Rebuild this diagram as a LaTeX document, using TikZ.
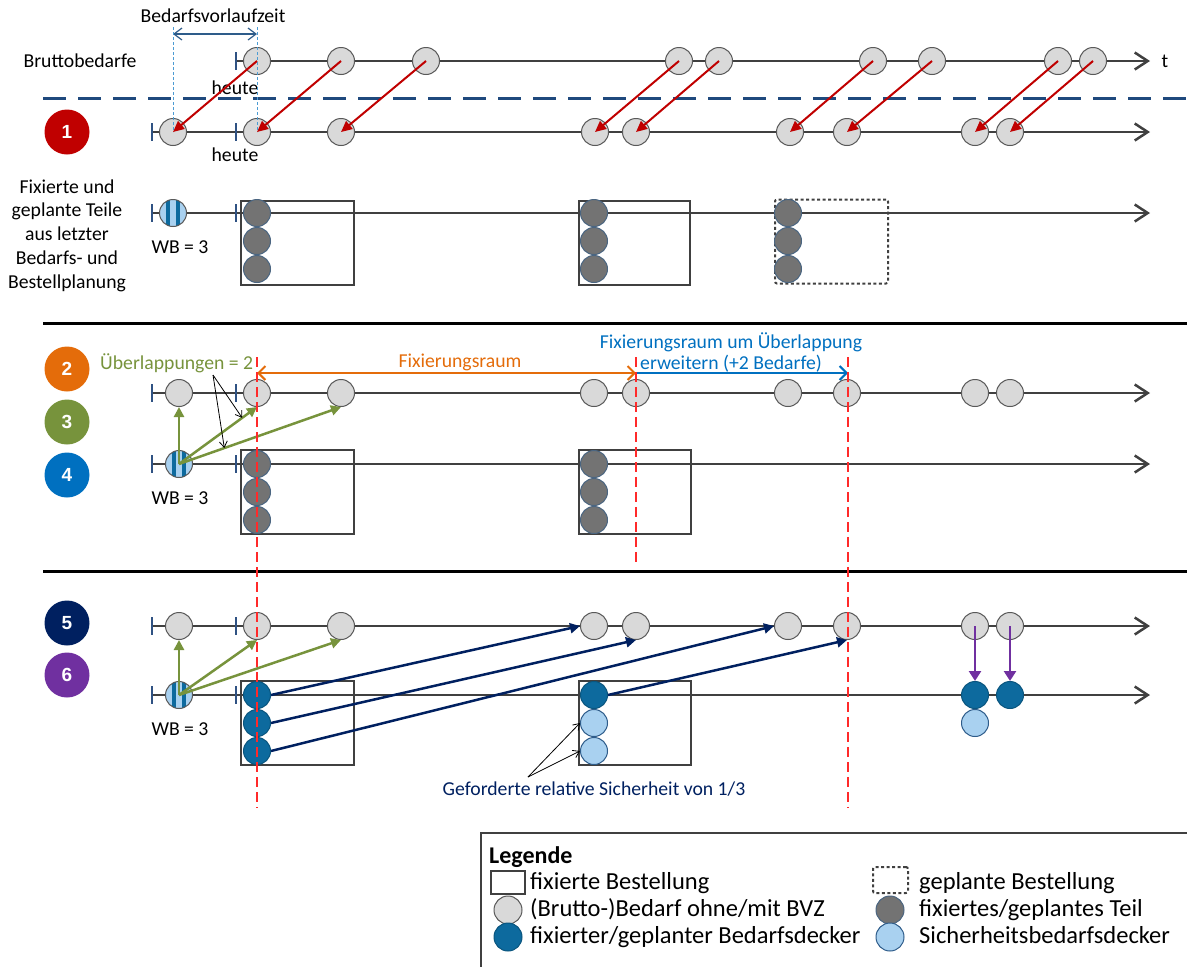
\documentclass[tikz,border=0pt]{standalone}
\usepackage{fontspec}
\setmainfont{Carlito}
\newfontfamily\ziffern{Liberation Sans}
\usetikzlibrary{arrows.meta}

\definecolor{achsgrau}{HTML}{404040}
\definecolor{tickblau}{HTML}{2F5283}
\definecolor{bedarfgrau}{HTML}{D9D9D9}
\definecolor{randgrau}{HTML}{595959}
\definecolor{teilgrau}{HTML}{737373}
\definecolor{deckerblau}{HTML}{0D6A9E}
\definecolor{sicherblau}{HTML}{A9D1F0}
\definecolor{randblau}{HTML}{2E5C8A}
\definecolor{pfeilrot}{HTML}{C00000}
\definecolor{strichrot}{HTML}{FF2A2A}
\definecolor{fixorange}{HTML}{E46C0A}
\definecolor{gruen}{HTML}{77933C}
\definecolor{blau}{HTML}{0070C0}
\definecolor{nachtblau}{HTML}{002060}
\definecolor{lila}{HTML}{7030A0}
\definecolor{trennblau}{HTML}{1F497D}

\begin{document}
\begin{tikzpicture}[
    x=1pt, y=-1pt,
    font=\fontsize{19.7}{23.7}\selectfont,
    kreis/.style={
        circle,
        line width=1pt,
        minimum size=27pt,
        inner sep=0pt
    },
    bedarfkreis/.style={kreis, fill=bedarfgrau, draw=randgrau},
    teilkreis/.style={kreis, fill=teilgrau, draw=randblau!60!teilgrau},
    deckerkreis/.style={kreis, fill=deckerblau, draw=deckerblau!80!black},
    sicherkreis/.style={kreis, fill=sicherblau, draw=randblau},
    streifkreis/.style={
        kreis,
        fill=sicherblau,
        draw=randgrau,
        path picture={
            \fill[deckerblau] ([xshift=-7pt]path picture bounding box.south)
                rectangle ([xshift=-3pt]path picture bounding box.north);
            \fill[deckerblau] ([xshift=3pt]path picture bounding box.south)
                rectangle ([xshift=7pt]path picture bounding box.north);
        }
    },
    nummer/.style={
        circle,
        minimum size=45pt,
        inner sep=0pt,
        text=white,
        font=\ziffern\bfseries\fontsize{19}{22}\selectfont
    },
    fixbox/.style={
        draw=achsgrau,
        line width=2pt,
        minimum width=113pt,
        minimum height=84pt,
        inner sep=0pt
    },
    planbox/.style={
        fixbox,
        dash pattern=on 3pt off 2.5pt,
        rounded corners=2pt
    },
    zeitachse/.style={
        draw=achsgrau,
        line width=2.5pt,
        -{Straight Barb[length=13pt,width=17pt]}
    },
    tickmark/.style={draw=tickblau, line width=2.5pt},
    rotpfeil/.style={draw=pfeilrot, line width=2pt, -{Triangle[length=11pt,width=10pt]}},
    gruenpfeil/.style={draw=gruen, line width=2.5pt, -{Triangle[length=10pt,width=10pt]}},
    nachtpfeil/.style={draw=nachtblau, line width=2.5pt, -{Triangle[length=10pt,width=10pt]}},
    lilapfeil/.style={draw=lila, line width=2.5pt, -{Triangle[length=10pt,width=12pt]}},
    hinweis/.style={draw=black, line width=0.8pt, -{Straight Barb[length=6pt,width=8pt]}},
    grenze/.style={draw=strichrot, line width=1.5pt, dash pattern=on 10pt off 5pt},
    trenner/.style={draw=black, line width=3pt},
    legtext/.style={
        anchor=west,
        inner sep=0pt,
        font=\fontsize{24.5}{29}\selectfont,
        text height=17pt,
        text depth=5pt
    }]

\useasboundingbox (0,0) rectangle (1187,967);

% Trennlinien
\draw[trennblau, line width=3pt, dash pattern=on 23pt off 12pt]
(43,98) -- (1187,98);

\draw[trenner] (43,323) -- (1187,323);
\draw[trenner] (43,571) -- (1187,571);


% Zeitachsen
\draw[zeitachse] (236,61) -- (1150,61);

\foreach \y in {132,213,393,464,626,695}
    \draw[zeitachse] (152,\y) -- (1150,\y);

\foreach \y in {132,213,393,464,626,695}
    \draw[tickmark] (152,\y) ++(0,-9) -- ++(0,18);

\foreach \y in {61,132,213,393,464,626,695}
    \draw[tickmark] (236,\y) ++(0,-9) -- ++(0,18);


% Nummern
\node[nummer, fill=pfeilrot] (n1) at (67,132) {1};
\node[nummer, fill=fixorange] (n2) at (67,369) {2};
\node[nummer, fill=gruen] (n3) at (67,422) {3};
\node[nummer, fill=blau] (n4) at (67,475) {4};
\node[nummer, fill=nachtblau] (n5) at (67,623) {5};
\node[nummer, fill=lila] (n6) at (67,675) {6};


% Schritt 1
\node (brutto) at (80,61) {Bruttobedarfe};
\node (tlabel) at (1165,61) {t};
\node (heuteA) at (235,88) {heute};
\node (heuteB) at (235,155) {heute};
\node (bvz) at (213,16) {Bedarfsvorlaufzeit};

\node[align=center] (fixtext) at (67,235.5)
{Fixierte und\\geplante Teile\\aus letzter\\Bedarfs- und\\Bestellplanung};

\foreach \x [count=\i] in {257,341,426,679,719,873,932,1058,1093}
    \node[bedarfkreis] (a\i) at (\x,61) {};

\foreach \x [count=\i] in {173,257,341,595,636,790,847,975,1010}
    \node[bedarfkreis] (b\i) at (\x,132) {};

\foreach \i in {1,...,9}
    \draw[rotpfeil] (a\i.center) -- (b\i.center);

\coordinate (bvzL) at (173,34);
\coordinate (bvzR) at (257,34);

\draw[randblau, line width=1.2pt,
    {Straight Barb[length=8pt,width=12pt]}-{Straight Barb[length=8pt,width=12pt]}]
(bvzL) -- (bvzR);

\draw[blau!70, line width=0.8pt, dash pattern=on 3pt off 2pt]
(bvzL) ++(0,-7) -- (b1.center);

\draw[blau!70, line width=0.8pt, dash pattern=on 3pt off 2pt]
(bvzR) ++(0,-7) -- (b2.center);

\node[streifkreis] (wb1) at (173,213) {};
\node (wbtextA) at (180,247) {WB = 3};

\node[fixbox] (bestA) at (297.5,243) {};
\node[fixbox, minimum width=111pt] (bestB) at (634.5,243) {};
\node[planbox] (bestC) at (831.5,241.5) {};

\foreach \k in {0,1,2} {
    \node[teilkreis] (tA\k) at (257,{213+28*\k}) {};
    \node[teilkreis] (tB\k) at (594,{213+28*\k}) {};
    \node[teilkreis] (tC\k) at (788,{213+28*\k}) {};
}


% Schritt 2 bis 4
\foreach \x [count=\i] in {179,257,341,594,636,788,847,975,1010}
    \node[bedarfkreis] (c\i) at (\x,393) {};

\node[streifkreis] (wb2) at (179,464) {};
\node (wbtextB) at (180,498) {WB = 3};

\node[fixbox] (bestD) at (297.5,492) {};
\node[fixbox, minimum width=112pt] (bestE) at (635,492) {};

\foreach \k in {0,1,2} {
    \node[teilkreis] (tD\k) at (257,{464+28*\k}) {};
    \node[teilkreis] (tE\k) at (594,{464+28*\k}) {};
}

\coordinate (fixL) at (257,373);
\coordinate (fixM) at (636,373);
\coordinate (fixR) at (848,373);

\draw[fixorange, line width=2pt,
    {Straight Barb[length=7pt,width=14pt]}-{Straight Barb[length=7pt,width=14pt]}]
(fixL) -- (fixM);

\draw[blau, line width=2pt, -{Straight Barb[length=7pt,width=14pt]}]
(fixM) -- (fixR);

\node[text=fixorange] (fixraum) at (460,362) {Fixierungsraum};

\node[text=blau, align=center, font=\fontsize{19.7}{21}\selectfont] (erweitern) at (731,352)
{Fixierungsraum um Überlappung\\erweitern (+2 Bedarfe)};

\node[text=gruen, anchor=west, inner sep=0pt] (ueber) at (100,363) {Überlappungen = 2};

\draw[gruenpfeil] (wb2.center) -- (c1.south);
\draw[gruenpfeil] (wb2.center) -- (c2.south) coordinate[pos=0.81] (ueA);
\draw[gruenpfeil] (wb2.center) -- (c3.south) coordinate[pos=0.28] (ueB);

\coordinate (ueStart) at (213,375);
\draw[hinweis] (ueStart) -- (ueA);
\draw[hinweis] (ueStart) -- (ueB);


% Schritt 5 und 6
\foreach \x [count=\i] in {179,257,341,594,636,788,847,975,1010}
    \node[bedarfkreis] (d\i) at (\x,626) {};

\node[streifkreis] (wb3) at (179,695) {};
\node (wbtextC) at (180,729) {WB = 3};

\node[fixbox] (bestF) at (297.5,723) {};
\node[fixbox, minimum width=112pt] (bestG) at (635,723) {};

\foreach \k in {0,1,2}
    \node[deckerkreis] (dF\k) at (257,{695+28*\k}) {};

\node[deckerkreis] (dG0) at (594,695) {};
\node[sicherkreis] (sG1) at (594,723) {};
\node[sicherkreis] (sG2) at (594,751) {};

\node[deckerkreis] (dH1) at (975,695) {};
\node[deckerkreis] (dH2) at (1010,695) {};
\node[sicherkreis] (sH1) at (975,723) {};

\draw[gruenpfeil] (wb3.center) -- (d1.south);
\draw[gruenpfeil] (wb3.center) -- (d2.south);
\draw[gruenpfeil] (wb3.center) -- (d3.south);

\draw[nachtpfeil] (dF0.east) -- (d4.west);
\draw[nachtpfeil] (dF1.east) -- (d5.south);
\draw[nachtpfeil] (dF2.east) -- (d6.west);
\draw[nachtpfeil] (dG0.east) -- (d7.south);

\draw[lilapfeil] (d8.center) -- (dH1.north);
\draw[lilapfeil] (d9.center) -- (dH2.north);

\node[text=nachtblau] (sicherheit) at (594,789)
{Geforderte relative Sicherheit von 1/3};

\coordinate (siStart) at (528,777);
\draw[hinweis] (siStart) -- (sG1.west);
\draw[hinweis] (siStart) -- (sG2.west);


% Grenzen Fixierungsraum
\draw[grenze] (257,357) -- (257,808);
\draw[grenze] (636,357) -- (636,565);
\draw[grenze] (848,357) -- (848,808);


% Legende
\draw[achsgrau, line width=2pt] (481,833) rectangle (1200,980);

\node[anchor=west, inner sep=0pt, font=\fontsize{24}{28}\selectfont\bfseries] (legende) at (489,857)
{Legende};

\node[fixbox, minimum width=34pt, minimum height=23pt] (legFix) at (508,882.5) {};
\node[planbox, minimum width=35pt, minimum height=26pt] (legPlan) at (890.5,880) {};
\node[bedarfkreis, minimum size=28pt] (legBedarf) at (508,910) {};
\node[teilkreis, minimum size=28pt] (legTeil) at (890,910) {};
\node[deckerkreis, minimum size=28pt] (legDecker) at (508,937) {};
\node[sicherkreis, minimum size=28pt] (legSicher) at (890,937) {};

\node[legtext] (legFixText) at (530,883) {fixierte Bestellung};
\node[legtext] (legPlanText) at (919,883) {geplante Bestellung};
\node[legtext] (legBedarfText) at (530,910) {(Brutto-)Bedarf ohne/mit BVZ};
\node[legtext] (legTeilText) at (919,910) {fixiertes/geplantes Teil};
\node[legtext] (legDeckerText) at (530,937) {fixierter/geplanter Bedarfsdecker};
\node[legtext] (legSicherText) at (919,937) {Sicherheitsbedarfsdecker};

\end{tikzpicture}
\end{document}
